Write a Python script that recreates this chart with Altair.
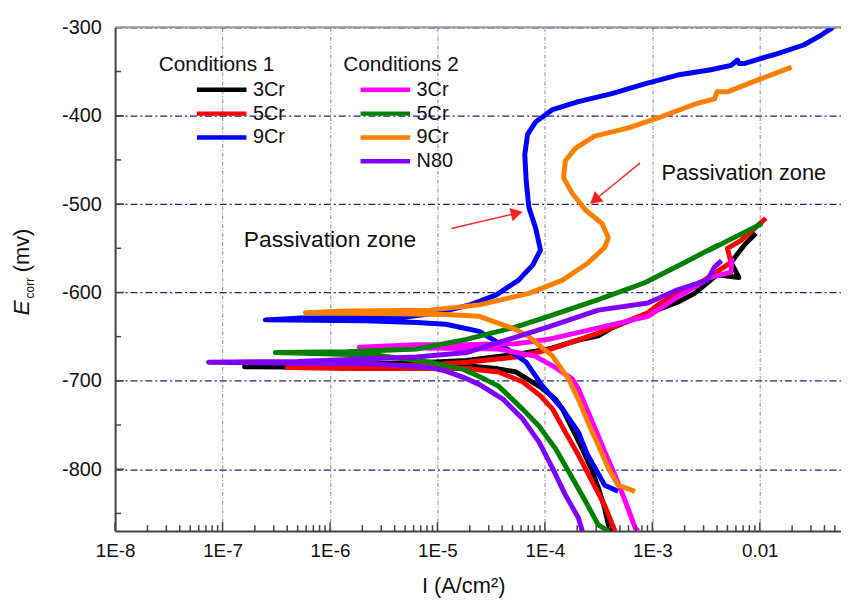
import altair as alt
import pandas as pd

FONT = "Liberation Sans"

# ---------------- axis / tick values ----------------
x_decades = [1e-8, 1e-7, 1e-6, 1e-5, 1e-4, 1e-3, 1e-2]
x_minor = [k * 10.0 ** n for n in range(-8, -1) for k in range(2, 10) if k * 10.0 ** n < 0.057]
y_labels = [-800, -700, -600, -500, -400, -300]
y_major_ticks = [-800, -700, -600, -500, -400]
y_minor_ticks = [-850, -750, -650, -550, -450, -350]

# ---------------- Conditions 1 ----------------
c1_labels = ["3Cr", "5Cr", "9Cr"]
c1_colors = ["#000000", "#ff0000", "#0000ff"]

c1_3cr_I = [4.2e-4, 3.9e-4, 3.6e-4, 3.14e-4, 2.76e-4, 2.23e-4, 1.8e-4, 1.46e-4, 1.26e-4, 9.1e-5,
            5.4e-5, 3.5e-5, 1.86e-5, 8.5e-6, 1.45e-6, 1.6e-7,
            5.0e-7, 8.5e-6, 1.86e-5, 5.4e-5, 1.08e-4, 2.05e-4, 3.14e-4, 4.2e-4, 8.5e-4, 1.72e-3,
            2.47e-3, 4.0e-3, 6.4e-3, 5.4e-3, 7.1e-3, 9.2e-3]
c1_3cr_E = [-870, -863, -844, -821, -802, -777, -754, -732, -721, -707,
            -690, -686, -683, -684, -685, -684,
            -683, -679, -677, -670, -664, -654, -649, -640, -625, -611,
            -601, -580, -583, -566, -547, -533]

c1_5cr_I = [4.5e-4, 3.6e-4, 2.76e-4, 2.05e-4, 1.55e-4, 1.18e-4, 9.1e-5, 6.2e-5, 3.7e-5, 1.86e-5,
            8.5e-6, 1.45e-6, 4.0e-7,
            1.45e-6, 8.5e-6, 1.86e-5, 5.4e-5, 1.08e-4, 3.14e-4, 9.1e-4, 1.22e-3, 3.05e-3,
            5.4e-3, 5.0e-3, 6.7e-3, 1.14e-2]
c1_5cr_E = [-870, -841, -814, -784, -758, -732, -717, -701, -690, -686,
            -686, -686, -685,
            -684, -682, -679, -673, -665, -646, -623, -611, -586,
            -566, -550, -541, -516]

c1_9cr_I = [4.8e-4, 3.6e-4, 2.5e-4, 2.05e-4, 1.46e-4, 9.5e-5, 6.7e-5, 3.7e-5, 2.45e-5, 1.2e-5,
            6.4e-6, 2.1e-6, 2.5e-7,
            5.0e-7, 4.9e-6, 1.0e-5, 2.0e-5, 3.5e-5, 5.7e-5, 7.7e-5, 9.1e-5, 8.2e-5, 7.1e-5,
            6.7e-5, 6.5e-5, 6.9e-5, 8.2e-5, 1.18e-4, 2.05e-4, 4.2e-4, 8.5e-4, 1.72e-3, 3.5e-3,
            5.4e-3, 6.2e-3, 6.4e-3, 7.1e-3, 1.44e-2, 2.56e-2, 3.7e-2, 4.8e-2]
c1_9cr_E = [-825, -818, -784, -758, -732, -706, -679, -657, -644, -636,
            -634, -632, -631,
            -629, -628, -623, -614, -603, -586, -569, -552, -527, -504,
            -474, -444, -421, -407, -393, -384, -375, -364, -354, -348,
            -343, -337, -341, -341, -330, -320, -309, -300]

# ---------------- Conditions 2 ----------------
c2_labels = ["3Cr", "5Cr", "9Cr", "N80"]
c2_colors = ["#ff00ff", "#008000", "#ff8000", "#8000ff"]

c2_3cr_I = [7.35e-4, 6.9e-4, 5.6e-4, 4.5e-4, 3.6e-4, 2.94e-4, 2.38e-4, 2.05e-4, 1.8e-4, 1.26e-4,
            8.1e-5, 3.7e-5, 1.2e-5, 1.87e-6,
            6.4e-6, 1.86e-5, 5.4e-5, 1.08e-4, 3.14e-4, 9.1e-4, 1.72e-3, 3.5e-3, 5.4e-3, 5.5e-3]
c2_3cr_E = [-870, -866, -836, -807, -780, -754, -728, -709, -698, -685,
            -672, -664, -663, -662,
            -659, -659, -658, -653, -640, -627, -605, -583, -577, -561]

c2_5cr_I = [3.9e-4, 3.14e-4, 2.38e-4, 1.8e-4, 1.26e-4, 8.8e-5, 6.2e-5, 5.0e-5, 3.7e-5, 2.45e-5,
            1.74e-5, 8.5e-6, 2.74e-6, 3.1e-7,
            1.45e-6, 6.4e-6, 1.86e-5, 5.4e-5, 1.08e-4, 3.14e-4, 8.5e-4, 2.0e-3, 4.0e-3, 3.4e-3,
            4.4e-3, 1.05e-2]
c2_5cr_E = [-870, -863, -836, -810, -777, -751, -732, -721, -706, -695,
            -687, -679, -671, -668,
            -667, -664, -653, -639, -627, -608, -589, -566, -547, -552,
            -545, -522]

c2_9cr_I = [6.9e-4, 4.8e-4, 3.9e-4, 3.14e-4, 2.5e-4, 2.05e-4, 1.66e-4, 1.18e-4, 9.1e-5, 7.1e-5,
            5.4e-5, 2.45e-5, 1.2e-5, 4.2e-6, 5.9e-7,
            1.45e-6, 8.5e-6, 2.45e-5, 7.1e-5, 1.46e-4, 2.5e-4, 3.6e-4, 3.9e-4, 3.4e-4, 2.4e-4,
            1.8e-4, 1.49e-4, 1.55e-4, 1.92e-4, 2.9e-4, 5.9e-4, 1.22e-3, 2.47e-3, 3.8e-3, 4.0e-3,
            5.0e-3, 1.03e-2, 1.98e-2]
c2_9cr_E = [-825, -818, -799, -773, -746, -721, -698, -672, -661, -650,
            -642, -627, -625, -624, -623,
            -621, -620, -614, -601, -586, -567, -549, -538, -522, -507,
            -488, -470, -451, -437, -423, -414, -401, -387, -381, -373,
            -373, -358, -345]

c2_n80_I = [2.23e-4, 2.05e-4, 1.55e-4, 1.18e-4, 8.8e-5, 6.2e-5, 4.1e-5, 2.45e-5, 1.74e-5, 1.2e-5,
            8.5e-6, 2.74e-6, 7.4e-8,
            5.0e-7, 6.4e-6, 1.86e-5, 4.6e-5, 1.08e-4, 3.14e-4, 9.1e-4, 1.72e-3, 3.25e-3, 3.8e-3,
            4.4e-3]
c2_n80_E = [-870, -855, -829, -799, -769, -743, -721, -704, -696, -689,
            -685, -681, -679,
            -678, -673, -668, -653, -639, -620, -612, -597, -586, -571,
            -564]

# ---------------- annotations ----------------
note_text = ["Passivation zone", "Passivation zone"]
note_I = [1.0e-6, 7.1e-3]
note_E = [-541, -465]
note_size = [23, 22]

arrow_I0 = [1.35e-5, 7.67e-4]
arrow_E0 = [-527.7, -453.6]
arrow_I1 = [5.26e-5, 3.0e-4]
arrow_E1 = [-510.8, -494.0]
arrow_angle = [76.8, 230.7]


def series(alloy, I, E):
    return pd.DataFrame({"alloy": alloy, "i": list(range(len(I))), "I": I, "E": E})


df1 = pd.concat([series("3Cr", c1_3cr_I, c1_3cr_E),
                 series("5Cr", c1_5cr_I, c1_5cr_E),
                 series("9Cr", c1_9cr_I, c1_9cr_E)], ignore_index=True)
df2 = pd.concat([series("3Cr", c2_3cr_I, c2_3cr_E),
                 series("5Cr", c2_5cr_I, c2_5cr_E),
                 series("9Cr", c2_9cr_I, c2_9cr_E),
                 series("N80", c2_n80_I, c2_n80_E)], ignore_index=True)

xscale = alt.Scale(type="log", domain=[1e-8, 0.057], nice=False)
yscale = alt.Scale(domain=[-870, -300], nice=False, zero=False)

xaxis = alt.Axis(
    values=x_decades,
    labelExpr="datum.value >= 0.005 ? '0.01' : '1E' + round(log(datum.value) / LN10)",
    grid=True, gridColor="#8a8a8a", gridDash=[4, 2, 1, 2], gridWidth=1,
    ticks=False, tickSize=0, domain=True, domainColor="#444444", domainWidth=2,
    labelFont=FONT, labelFontSize=19, labelColor="#111111", labelPadding=11,
    labelFlush=False, labelOverlap=False,
    title="I (A/cm²)", titleFont=FONT, titleFontSize=22, titleFontWeight="normal",
    titleColor="#111111", titleX=351, titleY=62, titleBaseline="alphabetic", titleAlign="center",
)
yaxis = alt.Axis(
    values=y_labels, labelExpr="'' + datum.value",
    grid=True, gridColor="#20208f", gridDash=[7, 3, 2, 3], gridWidth=1.2,
    ticks=False, tickSize=0, domain=True, domainColor="#444444", domainWidth=2,
    labelFont=FONT, labelFontSize=20, labelColor="#111111", labelPadding=14,
    title="",
)

X = lambda f: alt.X(f, scale=xscale, axis=xaxis, title="I (A/cm²)")
Y = lambda f: alt.Y(f, scale=yscale, axis=yaxis, title="")


def legend(title, lx, soff):
    return alt.Legend(
        title=title, orient="none", legendX=lx, legendY=27,
        symbolType="stroke", symbolStrokeWidth=4.5, symbolSize=2500,
        clipHeight=22, rowPadding=2, padding=0,
        labelFont=FONT, labelFontSize=20, labelColor="#111111", labelOffset=4,
        titleFont=FONT, titleFontSize=21, titleFontWeight="normal", titleColor="#111111",
        titlePadding=4, symbolOffset=soff,
    )


lines1 = alt.Chart(df1).mark_line(strokeWidth=5, strokeJoin="round", clip=True).encode(
    x=X("I:Q"), y=Y("E:Q"),
    color=alt.Color("alloy:N", scale=alt.Scale(domain=c1_labels, range=c1_colors),
                    legend=legend("Conditions 1", 44, 36)),
    order=alt.Order("i:Q"),
)
lines2 = alt.Chart(df2).mark_line(strokeWidth=5, strokeJoin="round", clip=True).encode(
    x=X("I:Q"), y=Y("E:Q"),
    color=alt.Color("alloy:N", scale=alt.Scale(domain=c2_labels, range=c2_colors),
                    legend=legend("Conditions 2", 230, 15)),
    order=alt.Order("i:Q"),
)

# ticks (inward)
tick_col = "#444444"
xmaj = alt.Chart(pd.DataFrame({"I": x_decades})).mark_rule(color=tick_col, strokeWidth=1.5).encode(
    x=X("I:Q"), y=alt.value(508), y2=alt.value(499))
xmin = alt.Chart(pd.DataFrame({"I": x_minor})).mark_rule(color=tick_col, strokeWidth=1.5).encode(
    x=X("I:Q"), y=alt.value(508), y2=alt.value(502))
ymaj = alt.Chart(pd.DataFrame({"E": y_major_ticks})).mark_rule(color=tick_col, strokeWidth=1.5).encode(
    y=Y("E:Q"), x=alt.value(0), x2=alt.value(9))
ymin = alt.Chart(pd.DataFrame({"E": y_minor_ticks})).mark_rule(color=tick_col, strokeWidth=1.5).encode(
    y=Y("E:Q"), x=alt.value(0), x2=alt.value(6))

top_frame = alt.Chart(pd.DataFrame({"k": [0]})).mark_rule(color="#9a9a9a", strokeWidth=2).encode(
    y=alt.value(0))

notes = alt.Chart(pd.DataFrame({"t": note_text, "I": note_I, "E": note_E, "s": note_size})).mark_text(
    font=FONT, color="#111111", align="center", baseline="middle").encode(
    x=X("I:Q"), y=Y("E:Q"),
    text="t:N",
    size=alt.Size("s:Q", scale=None, legend=None),
)

adf = pd.DataFrame({"I": arrow_I0, "E": arrow_E0, "I1": arrow_I1, "E1": arrow_E1, "a": arrow_angle})
arrow_lines = alt.Chart(adf).mark_rule(color="#ff2a2a", strokeWidth=1.5).encode(
    x=X("I:Q"), y=Y("E:Q"), x2="I1:Q", y2="E1:Q")
arrow_heads = alt.Chart(adf).mark_point(shape="triangle", filled=True, color="#ff2020",
                                          size=190, opacity=1).encode(
    x=X("I1:Q"), y=Y("E1:Q"),
    angle=alt.Angle("a:Q", scale=None))

# y-axis title:  E_corr (mv)
one = pd.DataFrame({"k": [0]})
ytitle_E = alt.Chart(one).mark_text(text="E", font=FONT, fontSize=23, fontStyle="italic",
                                    angle=270, align="center", baseline="middle", color="#111111").encode(
    x=alt.value(-94), y=alt.value(283))
ytitle_sub = alt.Chart(one).mark_text(text="corr", font=FONT, fontSize=12,
                                      angle=270, align="center", baseline="middle", color="#111111").encode(
    x=alt.value(-86), y=alt.value(263))
ytitle_unit = alt.Chart(one).mark_text(text="(mv)", font=FONT, fontSize=22,
                                       angle=270, align="center", baseline="middle", color="#111111").encode(
    x=alt.value(-94), y=alt.value(225))

chart = alt.layer(
    lines1, lines2, xmaj, xmin, ymaj, ymin, top_frame, notes, arrow_lines, arrow_heads,
    ytitle_E, ytitle_sub, ytitle_unit,
).resolve_scale(color="independent").properties(
    width=732, height=508,
    autosize=alt.AutoSizeParams(type="none"),
    padding={"left": 108, "top": 17, "right": 0, "bottom": 69},
).configure_view(stroke=None).configure(font=FONT, background="white")

chart.save("out.html", embed_options={"renderer": "svg", "actions": False})
